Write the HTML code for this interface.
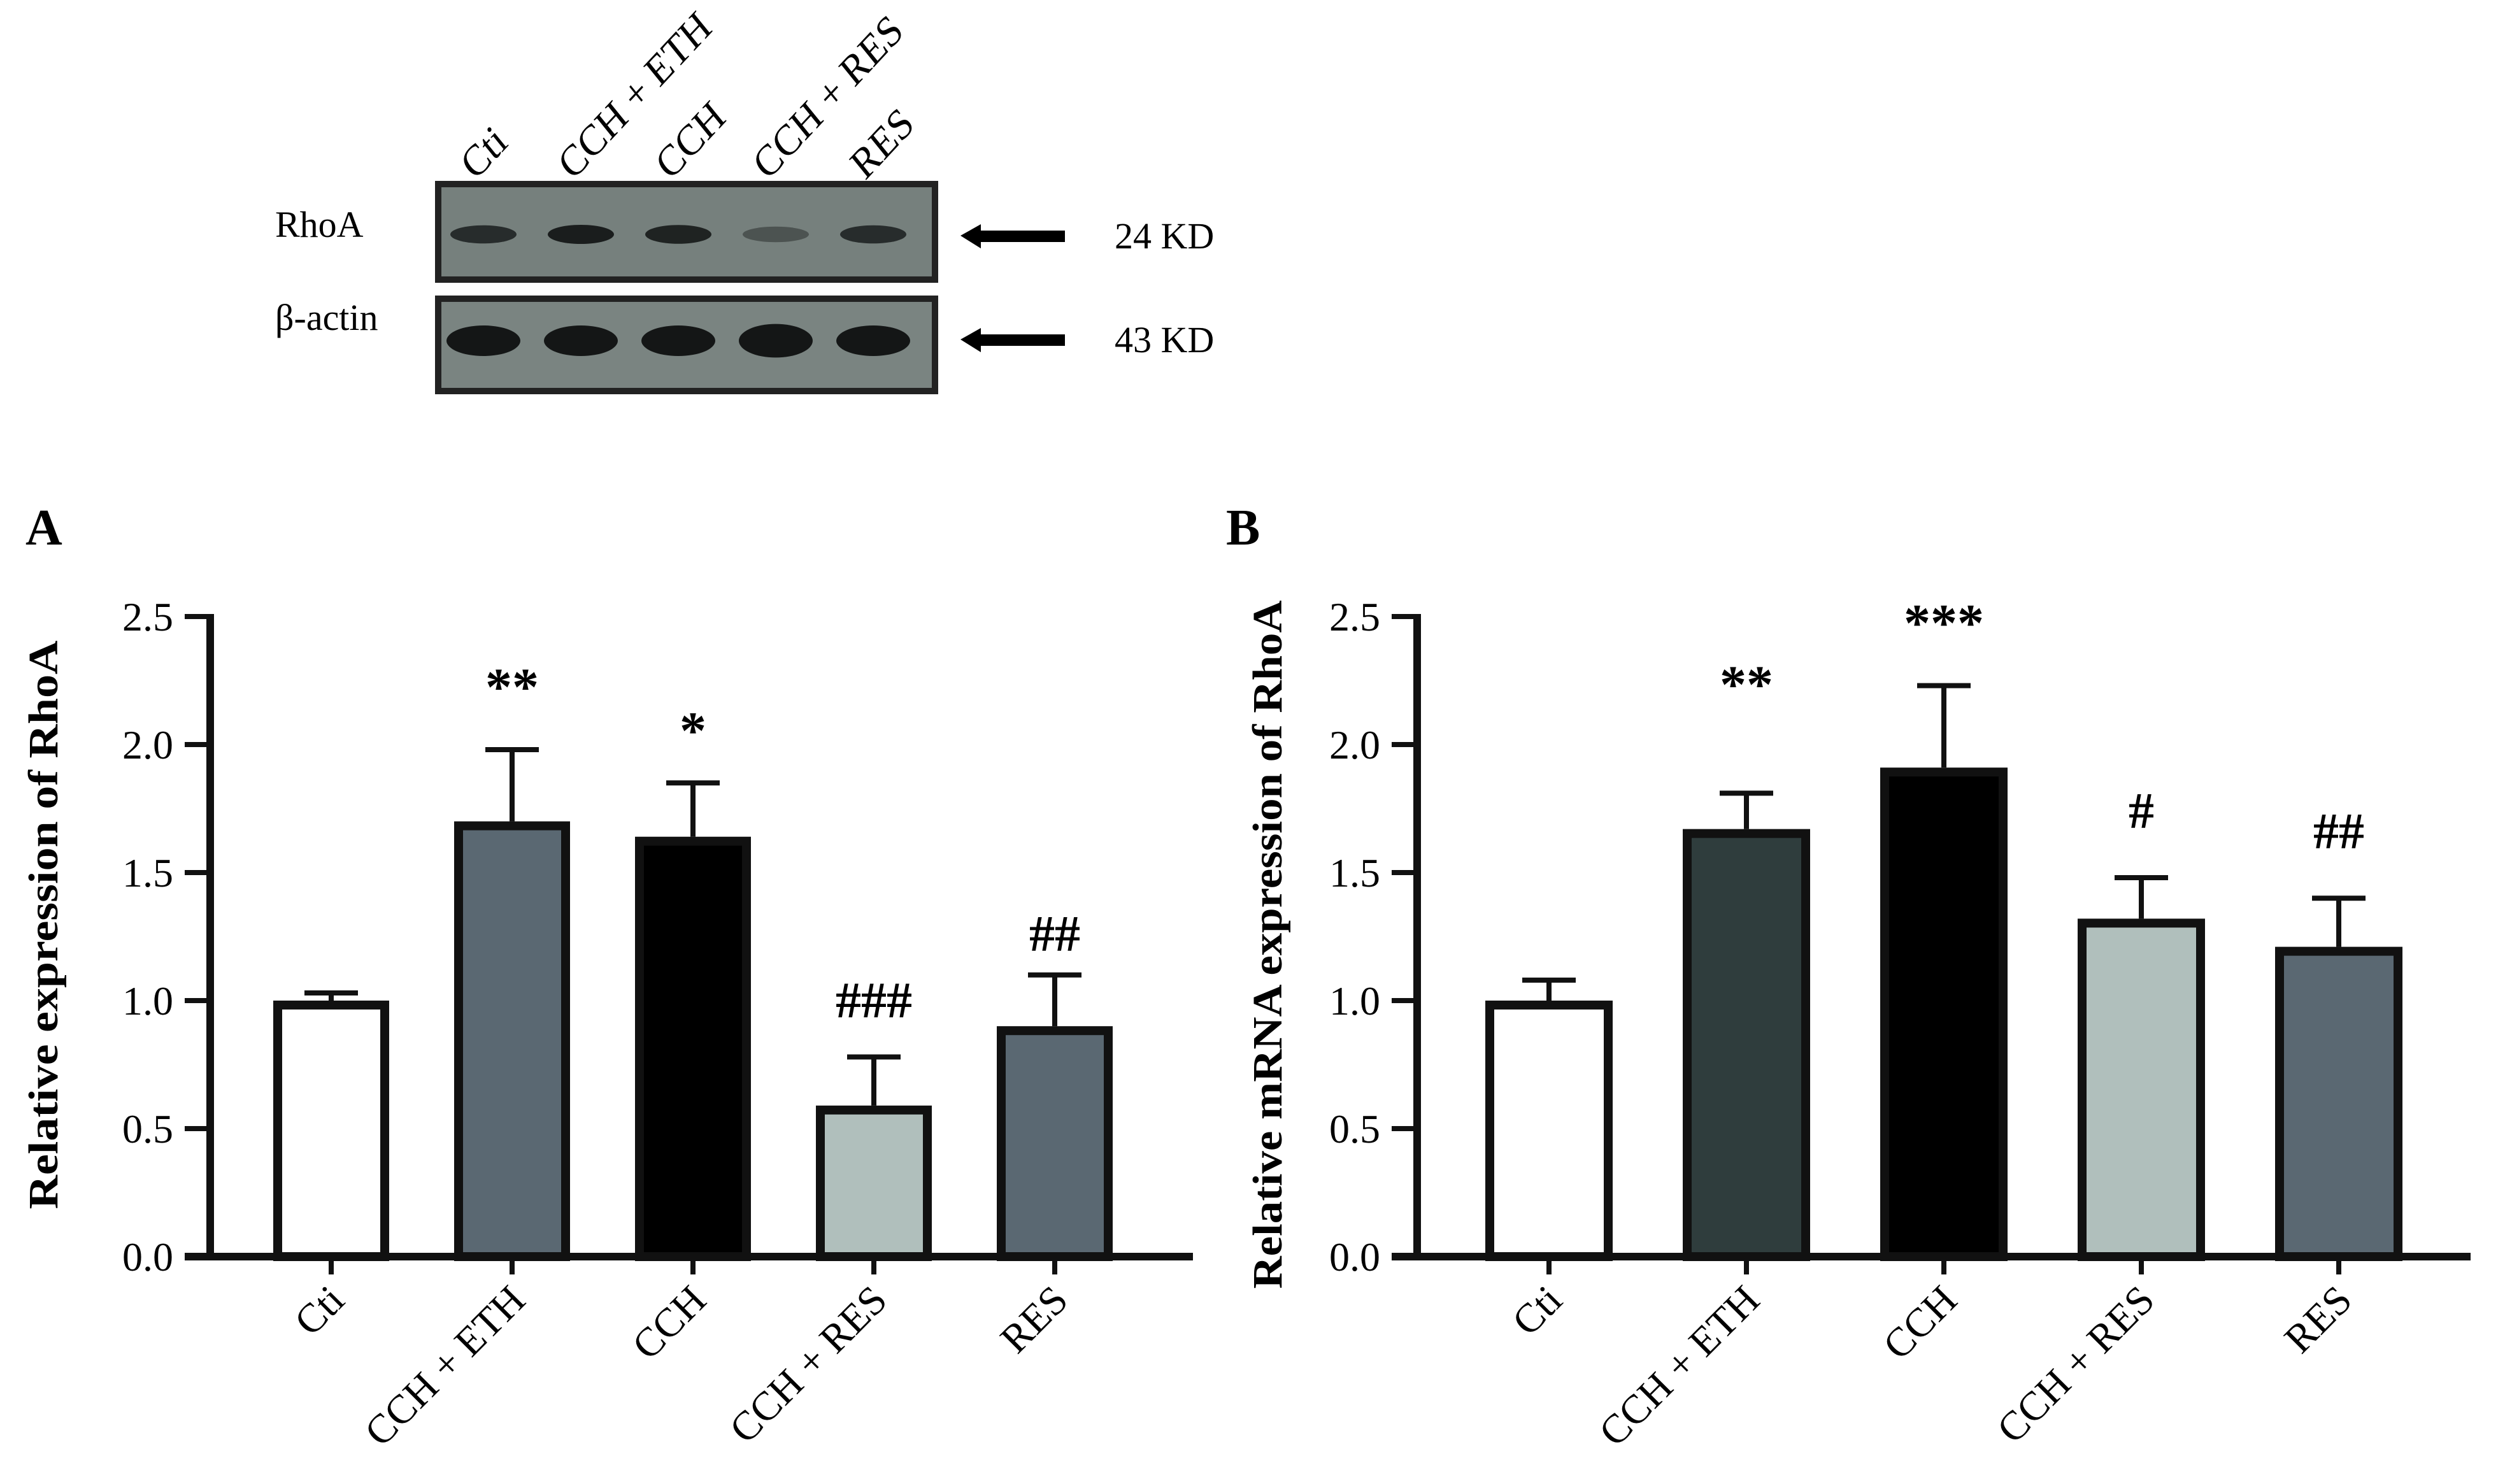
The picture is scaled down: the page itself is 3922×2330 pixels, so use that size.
<!DOCTYPE html>
<html><head><meta charset="utf-8"><style>
html,body{margin:0;padding:0;background:#fff;}
svg{display:block;font-family:"Liberation Serif",serif;}
</style></head><body>
<svg id="fig" width="3922" height="2330" viewBox="0 0 3922 2330" xmlns="http://www.w3.org/2000/svg">
<g id="blot">
  <rect x="688" y="289" width="780" height="150" fill="#76807d" stroke="#222" stroke-width="10"/>
  <rect x="688" y="469" width="780" height="145" fill="#7a8481" stroke="#222" stroke-width="10"/>
  <text x="432" y="372" font-size="58">RhoA</text>
  <text x="432" y="518" font-size="58">β-actin</text>
  <polygon points="1508,370 1540,352 1540,362 1672,362 1672,380 1540,380 1540,390" fill="#000"/>
  <polygon points="1508,533 1540,515 1540,525 1672,525 1672,543 1540,543 1540,553" fill="#000"/>
  <text x="1750" y="390" font-size="58">24 KD</text>
  <text x="1750" y="553" font-size="58">43 KD</text>
</g>
<g id="chartA"></g>
<g id="chartB"></g>
</svg>
<script>
const categories = ["Cti","CCH + ETH","CCH","CCH + RES","RES"];
const valuesA = [1.0, 1.70, 1.64, 0.59, 0.90];
const errA = [0.03, 0.28, 0.21, 0.19, 0.20];
const sigA = ["", "**", "*", "###", "##"];
const sigLevelA = [0, 2.25, 2.08, 1.0, 1.26];
const valuesB = [1.0, 1.67, 1.91, 1.32, 1.21];
const errB = [0.08, 0.14, 0.32, 0.16, 0.19];
const sigB = ["", "**", "***", "#", "##"];
const sigLevelB = [0, 2.26, 2.5, 1.74, 1.66];
const yTicks = [0, 0.5, 1.0, 1.5, 2.0, 2.5];
const yTickLabels = ["0.0","0.5","1.0","1.5","2.0","2.5"];
const fillsA = ["#ffffff","#5a6872","#000000","#b0bfbc","#5a6872"];
const fillsB = ["#ffffff","#2f3d3d","#000000","#b0bfbc","#5a6872"];
const bandStrengthRho = [0.85, 1.0, 0.95, 0.45, 0.85];
const bandStrengthActin = [1.0, 1.0, 1.0, 1.1, 1.0];
const NS = "http://www.w3.org/2000/svg";
function mk(tag, attrs, parent){const e=document.createElementNS(NS,tag);for(const k in attrs)e.setAttribute(k,attrs[k]);parent.appendChild(e);return e;}

const blot = document.getElementById('blot');
const laneX = i => 759 + i*153;
categories.forEach((c,i)=>{
  const lx = laneX(i)+12, ly = 258;
  const t = mk('text',{x:lx,y:ly,'font-size':64,transform:`rotate(-47 ${lx} ${ly}) skewX(-8)`},blot);
  t.textContent = c;
  
  
  const b1 = mk('ellipse',{cx:laneX(i),cy:368,rx:52,ry:10+5*bandStrengthRho[i],fill:'#1a1d1d','fill-opacity':bandStrengthRho[i]},blot);
  
  
  const b2 = mk('ellipse',{cx:laneX(i),cy:535,rx:58,ry:24*bandStrengthActin[i],fill:'#141616'},blot);
  
  
});

function drawChart(gid, cfg){
  const g = document.getElementById(gid);
  const y = v => cfg.y0 - (v/2.5)*(cfg.y0-cfg.y25);
  const x = i => cfg.x0 + i*cfg.step;
  const L = mk('text',{x:cfg.letterX,y:855,'font-size':80,'font-weight':'bold'},g);
  L.textContent = cfg.letter;
  
  
  const yt = mk('text',{x:0,y:0,'font-size':66,'font-weight':'bold','text-anchor':'middle',textLength:cfg.titleLen,lengthAdjust:'spacingAndGlyphs',transform:`translate(${cfg.titleX},${cfg.titleY}) rotate(-90)`},g);
  yt.textContent = cfg.title;
  
  
  cfg.values.forEach((v,i)=>{
    const bw = cfg.bw, cx = x(i);
    const top = y(v+cfg.err[i]);
    const el = mk('line',{x1:cx,x2:cx,y1:y(v),y2:top,stroke:'#111','stroke-width':8},g);
    
    
    const cap = mk('line',{x1:cx-42,x2:cx+42,y1:top,y2:top,stroke:'#111','stroke-width':8},g);
    
    
    const r = mk('rect',{x:cx-bw/2+7,y:y(v)+7,width:bw-14,height:y(0)-y(v)-7,fill:cfg.fills[i],stroke:'#111','stroke-width':14},g);
    
    
    if(cfg.sig[i]){
      const isStar = cfg.sig[i][0]=='*';
      const s = mk('text',{x:cx,y:y(cfg.sigLevel[i])+(isStar?38:26),'font-size':isStar?84:80,'font-weight':'bold','text-anchor':'middle'},g);
      s.textContent = cfg.sig[i];
      
      
    }
    const tk = mk('line',{x1:cx,x2:cx,y1:y(0),y2:y(0)+28,stroke:'#111','stroke-width':8},g);
    
    
    const lx = cx+24, ly = y(0)+72;
    const lb = mk('text',{x:lx,y:ly,'font-size':64,'text-anchor':'end',transform:`rotate(-45 ${lx} ${ly})`},g);
    lb.textContent = categories[i];
    
    
  });
  const ya = mk('line',{x1:cfg.axisX,x2:cfg.axisX,y1:y(2.5)-4,y2:y(0)+6,stroke:'#111','stroke-width':12},g);
  
  
  const xa = mk('line',{x1:cfg.axisX-40,x2:cfg.xEnd,y1:y(0),y2:y(0),stroke:'#111','stroke-width':12},g);
  
  
  yTicks.forEach((t,k)=>{
    const tl = mk('line',{x1:cfg.axisX-40,x2:cfg.axisX,y1:y(t),y2:y(t),stroke:'#111','stroke-width':8},g);
    
    
    const tx = mk('text',{x:cfg.axisX-58,y:y(t)+22,'font-size':64,'text-anchor':'end'},g);
    tx.textContent = yTickLabels[k];
    
    
  });
}
drawChart('chartA',{letter:'A',letterX:40,title:'Relative expression of RhoA',titleX:90,titleY:1452,titleLen:893,x0:520,step:284,bw:182,axisX:330,xEnd:1873,y0:1973,y25:968,values:valuesA,err:errA,sig:sigA,sigLevel:sigLevelA,fills:fillsA});
drawChart('chartB',{letter:'B',letterX:1925,title:'Relative mRNA expression of RhoA',titleX:2012,titleY:1483,titleLen:1081,x0:2432,step:310,bw:200,axisX:2225,xEnd:3879,y0:1973,y25:968,values:valuesB,err:errB,sig:sigB,sigLevel:sigLevelB,fills:fillsB});
</script>
</body></html>
